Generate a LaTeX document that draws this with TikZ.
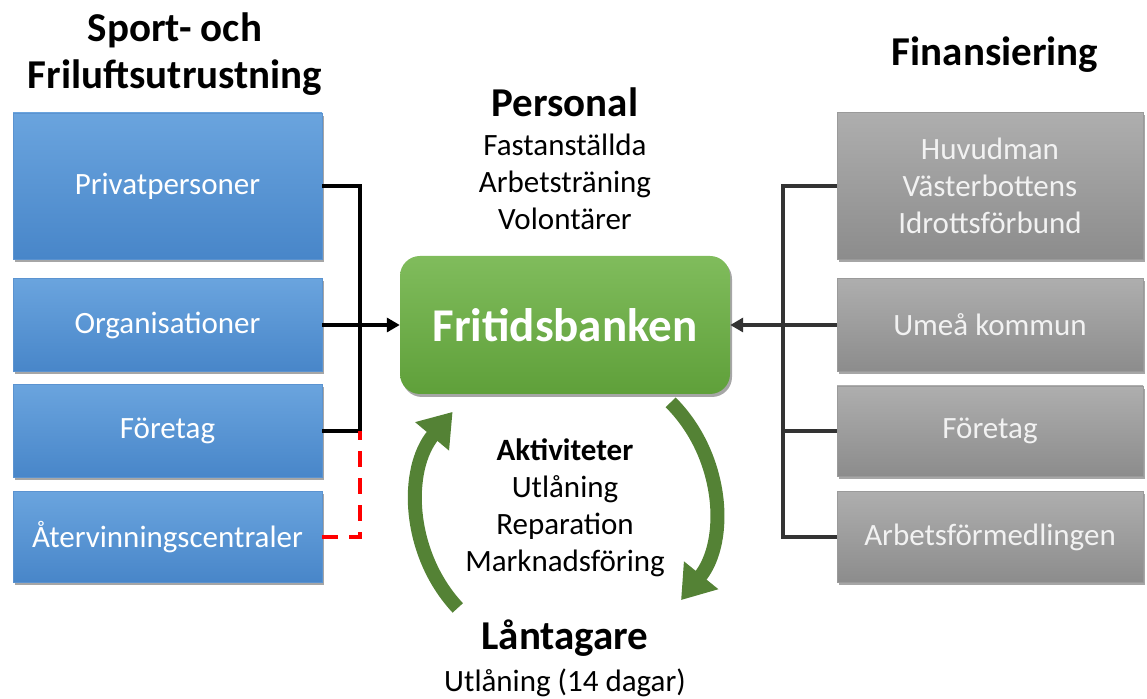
\documentclass[tikz,border=0pt]{standalone}
\usepackage{fontspec}
\setmainfont{Carlito}
\usetikzlibrary{arrows.meta,shadows}

\definecolor{blueTop}{HTML}{6AA4DE}
\definecolor{blueBot}{HTML}{4886C9}
\definecolor{blueLine}{HTML}{5B93D0}
\definecolor{grayTop}{HTML}{AEAEAE}
\definecolor{grayBot}{HTML}{8C8C8C}
\definecolor{grayLine}{HTML}{9A9A9A}
\definecolor{greenTop}{HTML}{80BC5C}
\definecolor{greenBot}{HTML}{5FA03A}
\definecolor{cycleGreen}{HTML}{548235}
\definecolor{busGray}{HTML}{333333}

\begin{document}
\begin{tikzpicture}[x=1pt,y=1pt,
	every node/.style={font=\fontsize{31}{37}\selectfont},
	head/.style={font=\fontsize{41}{47}\selectfont\bfseries},
	shade/.style={drop shadow={shadow xshift=2pt,shadow yshift=-3pt,opacity=0.35,fill=black}},
	bluebox/.style={rectangle,shade,minimum width=309pt,minimum height=93pt,top color=blueTop,bottom color=blueBot,draw=blueLine,line width=0.6pt,text=white,align=center},
	graybox/.style={rectangle,shade,minimum width=306pt,minimum height=93pt,top color=grayTop,bottom color=grayBot,draw=grayLine,line width=0.6pt,text=white!95!black,align=center},
	bankbox/.style={rectangle,rounded corners=20pt,shade,minimum width=330pt,minimum height=138pt,top color=greenTop,bottom color=greenBot,draw=none,text=white,font=\fontsize{47}{56}\selectfont\bfseries},
	blackline/.style={draw=black,line width=3.5pt},
	grayline/.style={draw=busGray,line width=3.5pt},
	redline/.style={draw=red,line width=3.5pt,dash pattern=on 16pt off 11pt},
	smallhead/.style={-{Triangle[length=13pt,width=14pt]}},
	cycle/.style={draw=cycleGreen,line width=14pt,-{Triangle[length=32pt,width=42pt]}}
	]
	\useasboundingbox (0,0) rectangle (1147,698);

	% left column
	\node[head,align=center] (sporthead) at (175,644) {Sport- och\\Friluftsutrustning};
	\node[bluebox,minimum height=146pt] (priv) at (167.5,512) {Privatpersoner};
	\node[bluebox] (org) at (167.5,373) {Organisationer};
	\node[bluebox] (ftg) at (167.5,267) {Företag};
	\node[bluebox,minimum height=91pt] (atv) at (167.5,161) {Återvinningscentraler};

	% right column
	\node[head] (finhead) at (995,643) {Finansiering};
	\node[graybox,minimum height=147pt] (huvud) at (990,512) {Huvudman\\Västerbottens\\Idrottsförbund};
	\node[graybox] (umea) at (990,373) {Umeå kommun};
	\node[graybox,minimum height=90pt] (ftg2) at (990,267) {Företag};
	\node[graybox,minimum height=91pt] (arbf) at (990,161) {Arbetsförmedlingen};

	% middle
	\node[head] (perhead) at (565,596) {Personal};
	\node[align=center] (personal) at (565,516) {Fastanställda\\Arbetsträning\\Volontärer};
	\node[bankbox] (bank) at (565,373) {Fritidsbanken};
	\node[align=center] (akt) at (565,190) {\textbf{Aktiviteter}\\Utlåning\\Reparation\\Marknadsföring};
	\node[head] (lanhead) at (565,60) {Låntagare};
	\node (lan) at (565,15) {Utlåning (14 dagar)};

	% connectors
	\coordinate (lbus) at (360,267);
	\coordinate (rbus) at (783,161);
	\draw[blackline] (priv.east) -| (lbus) -- (ftg.east);
	\draw[blackline,smallhead] (org.east) -- (bank.west);
	\draw[redline] (atv.east) -| (lbus);
	\draw[grayline] (huvud.west) -| (rbus) -- (arbf.west);
	\draw[grayline] (ftg2.west) -- (ftg2.west -| rbus);
	\draw[grayline,smallhead] (umea.west) -- (bank.east);

	% cycle
	\coordinate (mid) at (566,191);
	\draw[cycle] (mid) ++(223:148) arc (223:140:148);
	\draw[cycle] (mid) ++(45:148) arc (45:-39:148);
\end{tikzpicture}
\end{document}
